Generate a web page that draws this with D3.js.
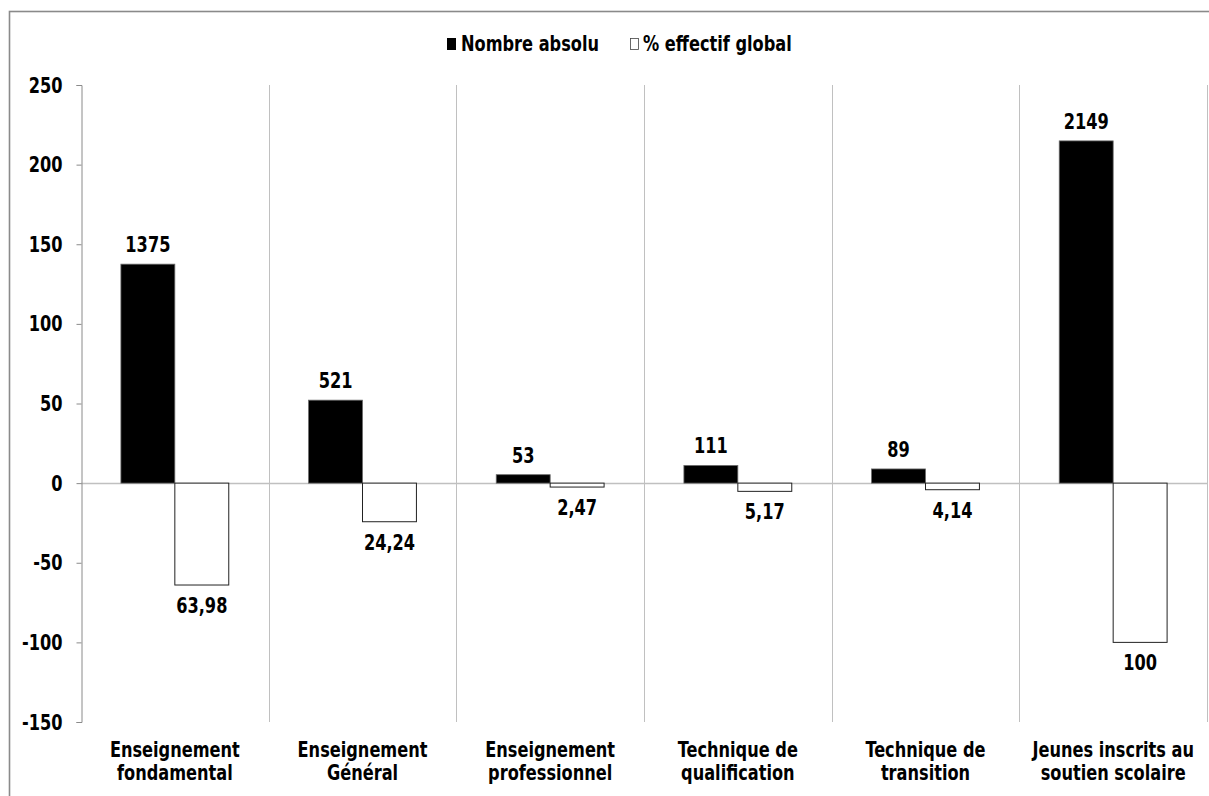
<!DOCTYPE html>
<html>
<head>
<meta charset="utf-8">
<script src="https://cdn.jsdelivr.net/npm/d3@7"></script>
<style>
  html, body { margin: 0; padding: 0; background: #fff; }
  svg { display: block; }
  text { font-family: "DejaVu Sans Condensed", "DejaVu Sans", sans-serif; font-weight: bold; fill: #000; }
</style>
</head>
<body>
<svg id="chart" width="1209" height="796"></svg>
<script>
// Categories (two-line labels), series values and axis ticks
const categories = [
  ["Enseignement", "fondamental"],
  ["Enseignement", "Général"],
  ["Enseignement", "professionnel"],
  ["Technique de", "qualification"],
  ["Technique de", "transition"],
  ["Jeunes inscrits au", "soutien scolaire"]
];
const absoluteCounts = [1375, 521, 53, 111, 89, 2149];   // "Nombre absolu"
const globalShares  = [63.98, 24.24, 2.47, 5.17, 4.14, 100]; // "% effectif global"
const yTicks = [-150, -100, -50, 0, 50, 100, 150, 200, 250];
const seriesNames = ["Nombre absolu", "% effectif global"];

// Counts are plotted in tens above zero, shares are plotted downward
const countUnit = 10;

const svg = d3.select("#chart");
const textStretch = 1.15;
const fmtShare = d3.formatLocale({decimal: ",", thousands: " ", grouping: [3], currency: ["", ""]}).format(".2~f");

const plot = {left: 81, right: 1207, top: 85, bottom: 722};

const x = d3.scaleBand()
  .domain(d3.range(categories.length))
  .range([plot.left, plot.right])
  .paddingInner(0).paddingOuter(0);

const xs = d3.scaleBand()
  .domain(seriesNames)
  .range([0, x.bandwidth()])
  .paddingInner(0).paddingOuter(0.74);

const y = d3.scaleLinear().domain([-150, 250]).range([plot.bottom, plot.top]);

// Outer frame
svg.append("rect")
  .attr("x", 9.5).attr("y", 11.5)
  .attr("width", 1209).attr("height", 800)
  .attr("fill", "none").attr("stroke", "#8a8a8a").attr("stroke-width", 1.6);

// Vertical separators between categories
svg.append("g").selectAll("line")
  .data(d3.range(1, categories.length + 1))
  .join("line")
  .attr("x1", i => Math.round(plot.left + i * x.step()) + 0.5)
  .attr("x2", i => Math.round(plot.left + i * x.step()) + 0.5)
  .attr("y1", y(250)).attr("y2", y(-150))
  .attr("stroke", "#c0c0c0").attr("stroke-width", 1);

// Zero baseline
svg.append("line")
  .attr("x1", plot.left).attr("x2", plot.right)
  .attr("y1", Math.round(y(0)) + 0.5).attr("y2", Math.round(y(0)) + 0.5)
  .attr("stroke", "#c0c0c0").attr("stroke-width", 1.5);

// Y axis (plain hyphen for negative values)
const yAxis = svg.append("g")
  .attr("transform", `translate(${plot.left + 0.5},0)`)
  .call(d3.axisLeft(y).tickValues(yTicks).tickSize(5).tickPadding(14).tickFormat(d => String(d)));
yAxis.select(".domain").attr("stroke", "#8a8a8a");
yAxis.selectAll(".tick line").attr("stroke", "#8a8a8a");
yAxis.selectAll(".tick text")
  .attr("font-size", 18)
  .attr("dy", null)
  .attr("y", 0)
  .attr("font-family", null)
  .attr("transform", `translate(0,7) scale(1,${textStretch})`)
  .attr("fill", "#000");

// Helper to place stretched text
function label(g, tx, ty, str, anchor = "middle", size = 18) {
  g.append("text")
    .attr("transform", `translate(${tx},${ty}) scale(1,${textStretch})`)
    .attr("text-anchor", anchor)
    .attr("font-size", size)
    .text(str);
}

// Bars
const bars = svg.append("g");
categories.forEach((c, i) => {
  const x0 = x(i);
  const countVal = absoluteCounts[i] / countUnit;
  const shareVal = -globalShares[i];
  // black bar: absolute number
  bars.append("rect")
    .attr("x", x0 + xs(seriesNames[0]))
    .attr("y", y(countVal))
    .attr("width", xs.bandwidth())
    .attr("height", y(0) - y(countVal))
    .attr("fill", "#000").attr("stroke", "#6a6a6a").attr("stroke-width", 0.8);
  // white bar: share of total
  bars.append("rect")
    .attr("x", x0 + xs(seriesNames[1]))
    .attr("y", y(0))
    .attr("width", xs.bandwidth())
    .attr("height", y(shareVal) - y(0))
    .attr("fill", "#fff").attr("stroke", "#222").attr("stroke-width", 1);
});

// Value labels
const vlab = svg.append("g");
categories.forEach((c, i) => {
  const x0 = x(i);
  label(vlab, x0 + xs(seriesNames[0]) + xs.bandwidth() / 2, y(absoluteCounts[i] / countUnit) - 12, String(absoluteCounts[i]));
  label(vlab, x0 + xs(seriesNames[1]) + xs.bandwidth() / 2, y(-globalShares[i]) + 28, fmtShare(globalShares[i]));
});

// Category labels
const clab = svg.append("g");
categories.forEach((c, i) => {
  const cx = x(i) + x.bandwidth() / 2;
  label(clab, cx, 757, c[0]);
  label(clab, cx, 780, c[1]);
});

// Legend
const leg = svg.append("g");
leg.append("rect").attr("x", 447).attr("y", 38).attr("width", 9).attr("height", 12).attr("fill", "#000");
label(leg, 461, 51, seriesNames[0], "start");
leg.append("rect").attr("x", 630.5).attr("y", 38.5).attr("width", 8).attr("height", 11)
  .attr("fill", "#fff").attr("stroke", "#444").attr("stroke-width", 0.8);
label(leg, 643, 51, seriesNames[1], "start");
</script>
</body>
</html>
